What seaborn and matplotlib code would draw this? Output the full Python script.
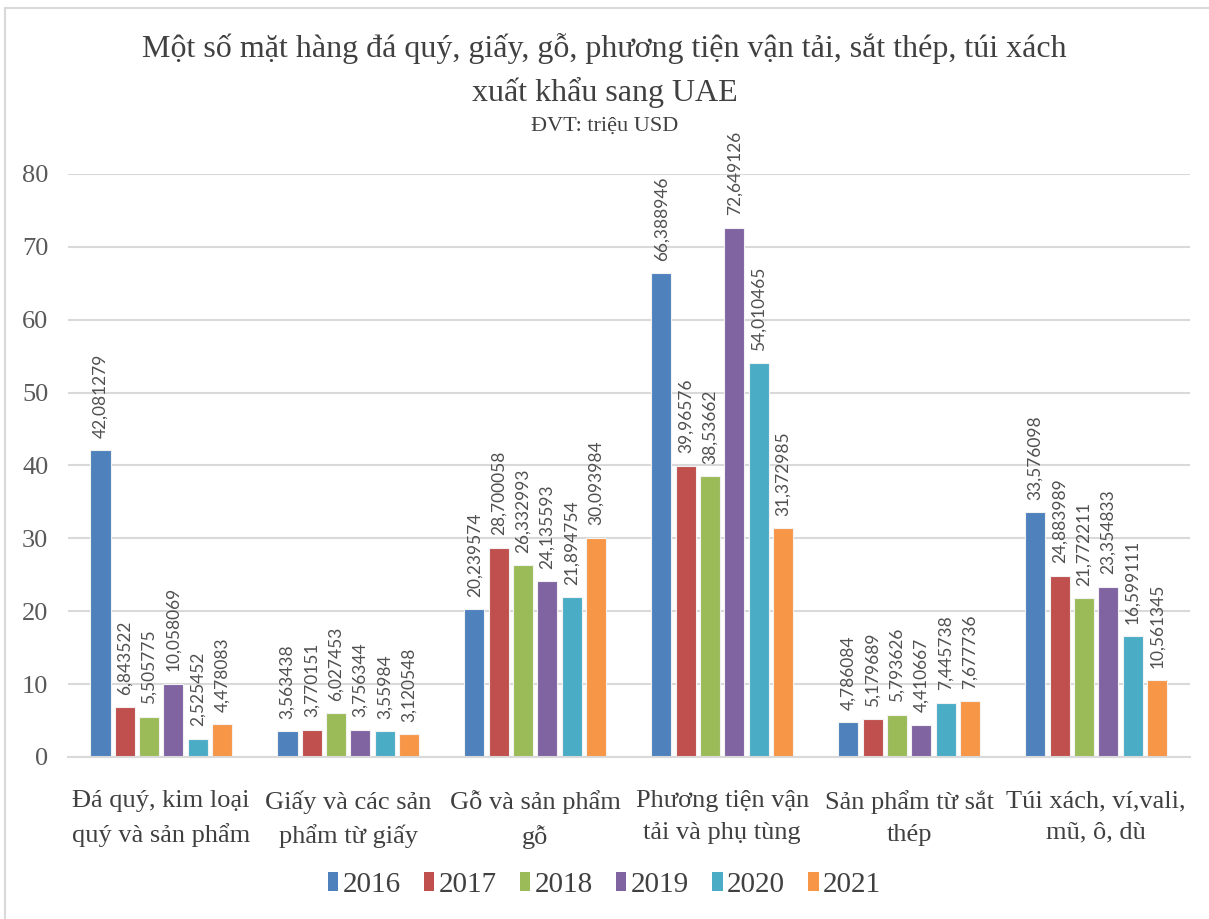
import matplotlib
matplotlib.use("Agg")
import matplotlib.pyplot as plt
import seaborn as sns
import pandas as pd
from matplotlib.patches import Rectangle
from matplotlib.lines import Line2D

categories = [
    "Đá quý, kim loại\nquý và sản phẩm",
    "Giấy và các sản\nphẩm từ giấy",
    "Gỗ và sản phẩm\ngỗ",
    "Phương tiện vận\ntải và phụ tùng",
    "Sản phẩm từ sắt\nthép",
    "Túi xách, ví,vali,\nmũ, ô, dù",
]
years = ["2016", "2017", "2018", "2019", "2020", "2021"]
v2016 = [42.081279, 3.563438, 20.239574, 66.388946, 4.786084, 33.576098]
v2017 = [6.843522, 3.770151, 28.700058, 39.96576, 5.179689, 24.883989]
v2018 = [5.505775, 6.027453, 26.332993, 38.53662, 5.793626, 21.772211]
v2019 = [10.058069, 3.756344, 24.135593, 72.649126, 4.410667, 23.354833]
v2020 = [2.525452, 3.55984, 21.894754, 54.010465, 7.445738, 16.599111]
v2021 = [4.478083, 3.120548, 30.093984, 31.372985, 7.677736, 10.561345]
colors = ["#4F81BD", "#C0504D", "#9BBB59", "#8064A2", "#4BACC6", "#F79646"]

series = [v2016, v2017, v2018, v2019, v2020, v2021]
rows = []
for y, vals in zip(years, series):
    for c, v in zip(categories, vals):
        rows.append({"cat": c, "year": y, "val": v})
df = pd.DataFrame(rows)

sns.set_theme(style="white")
plt.rcParams["font.family"] = ["Liberation Serif", "DejaVu Serif"]

fig = plt.figure(figsize=(12.09, 9.19), dpi=100)
ax = fig.add_axes([0.056, 0.1763, 0.928, 0.6344])

sns.barplot(data=df, x="cat", y="val", hue="year", palette=colors,
            width=0.78, gap=0.17, ax=ax, legend=False,
            edgecolor="#F2F2F2", linewidth=0.8, saturation=1)

ax.set_ylim(0, 80)
ax.set_xlim(-0.5, 5.5)
ax.set_yticks(range(0, 81, 10))
ax.yaxis.grid(True, color="#D9D9D9", linewidth=1.5)
ax.set_axisbelow(True)
for s in ["top", "right", "left"]:
    ax.spines[s].set_visible(False)
ax.spines["bottom"].set_color("#D9D9D9")
ax.spines["bottom"].set_linewidth(1.5)
ax.tick_params(axis="both", length=0)
ax.tick_params(axis="y", labelsize=19, labelcolor="#595959", pad=14)
ax.tick_params(axis="x", labelsize=19, labelcolor="#404040", pad=24)
ax.set_xlabel("")
ax.set_ylabel("")
for lab in ax.get_xticklabels():
    lab.set_linespacing(1.55)

label_font = ["Lato", "DejaVu Sans"]
for cont, vals in zip(ax.containers, series):
    labels = [str(v).replace(".", ",") for v in vals]
    ax.bar_label(cont, labels=labels, rotation=90, padding=9,
                 fontsize=12.5, color="#505050", family=label_font,
                 clip_on=False)

fig.text(0.5, 1 - 48 / 919, "Một số mặt hàng đá quý, giấy, gỗ, phương tiện vận tải, sắt thép, túi xách",
         ha="center", va="center", fontsize=23, color="#404040")
fig.text(0.5, 1 - 92 / 919, "xuất khẩu sang UAE", ha="center", va="center",
         fontsize=23, color="#404040")
fig.text(0.5, 1 - 126 / 919, "ĐVT: triệu USD", ha="center", va="center",
         fontsize=16, color="#404040")

handles = [Rectangle((0, 0), 1, 1, facecolor=c, edgecolor="none") for c in colors]
fig.legend(handles, years, loc="center", bbox_to_anchor=(0.5, 1 - 885 / 919),
           ncol=6, frameon=False, fontsize=21, handlelength=0.35, handleheight=0.6,
           handletextpad=0.15, columnspacing=0.8, labelcolor="#404040")

# chart border
fig.add_artist(Line2D([5 / 1209, 5 / 1209], [0, 1 - 8 / 919], transform=fig.transFigure,
                      color="#D9D9D9", linewidth=1.5))
fig.add_artist(Line2D([5 / 1209, 1], [1 - 8 / 919, 1 - 8 / 919], transform=fig.transFigure,
                      color="#D9D9D9", linewidth=1.5))

fig.savefig("out.png", dpi=100)
